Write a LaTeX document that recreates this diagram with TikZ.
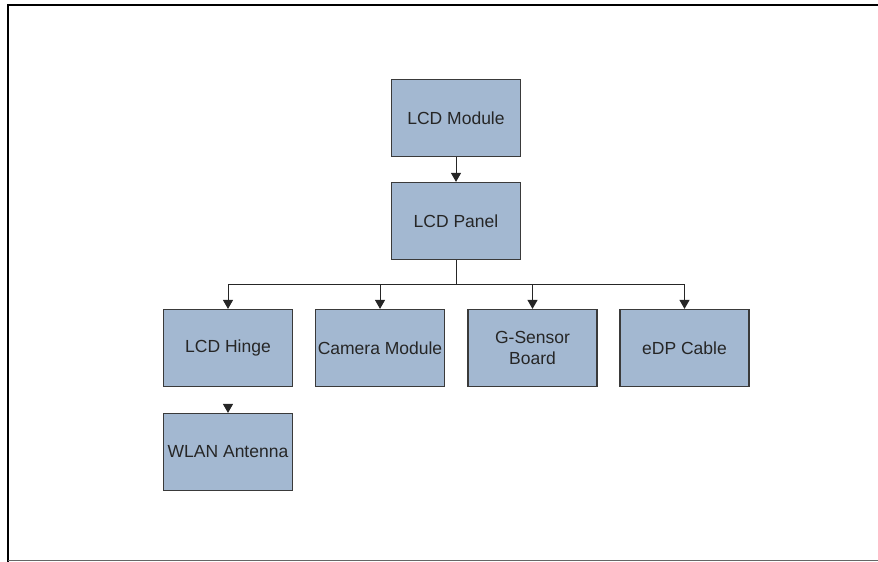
\documentclass[tikz,border=0pt]{standalone}
\usepackage{fontspec}
\setmainfont{Liberation Sans}
\usetikzlibrary{arrows.meta}
\definecolor{boxfill}{HTML}{A3B8D1}
\definecolor{boxline}{HTML}{3A3A3A}
\tikzset{
  blk/.style={draw=boxline, line width=1.2pt, fill=boxfill, minimum width=129pt, minimum height=77pt, inner sep=0pt, align=center, font=\fontsize{17.5pt}{21pt}\selectfont, text=black!85},
  conn/.style={draw=black!85, line width=1pt, -{Triangle[width=10pt,length=9pt]}},
  plain/.style={draw=black!85, line width=1pt}
}
\begin{document}
\begin{tikzpicture}[x=1pt,y=-1pt]
\useasboundingbox (0,0) rectangle (878,562);
% frame
\draw[line width=2.5pt, black] (8,562) -- (8,5) -- (878,5);
\draw[line width=1pt, black!60] (8,560.7) -- (878,560.7);
% nodes
\node[blk] (mod) at (456,118) {LCD Module};
\node[blk] (pan) at (456,221) {LCD Panel};
\node[blk] (hin) at (228,348) {LCD Hinge};
\node[blk] (cam) at (380,348) {Camera Module};
\node[blk] (gs) at (532.5,348) {G-Sensor\\Board};
\node[blk] (edp) at (684.5,348) {eDP Cable};
\node[blk] (wlan) at (228,452) {WLAN Antenna};
\coordinate (bus) at (456,284);
\coordinate (wl) at (228,404);
% connectors
\draw[conn] (mod.south) -- (pan.north);
\draw[plain] (pan.south) -- (bus);
\draw[plain] (hin.north |- bus) -- (edp.north |- bus);
\draw[conn] (hin.north |- bus) -- (hin.north);
\draw[conn] (cam.north |- bus) -- (cam.north);
\draw[conn] (gs.north |- bus) -- (gs.north);
\draw[conn] (edp.north |- bus) -- (edp.north);
\draw[conn] (wl) -- (wlan.north);
\end{tikzpicture}
\end{document}
